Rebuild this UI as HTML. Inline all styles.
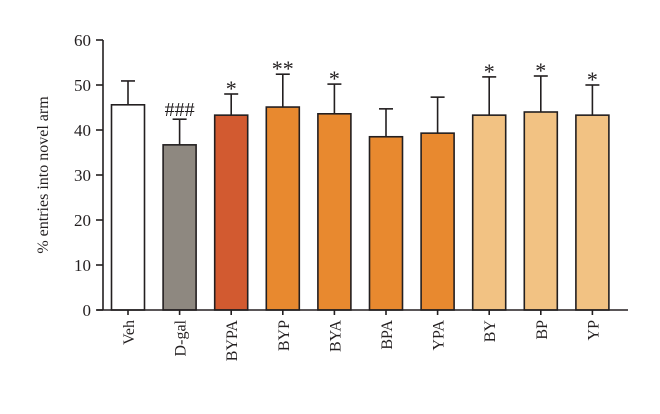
<!DOCTYPE html>
<html><head><meta charset="utf-8"><style>
body{margin:0;background:#fff}
svg text{font-family:"Liberation Serif",serif;fill:#231f20}
</style></head><body>
<svg id="chart" width="660" height="409" viewBox="0 0 660 409" xmlns="http://www.w3.org/2000/svg"></svg>
<script>
const categories=["Veh","D-gal","BYPA","BYP","BYA","BPA","YPA","BY","BP","YP"];
const means=[45.6,36.7,43.3,45.1,43.6,38.5,39.3,43.3,44.0,43.3];
const errors=[5.3,5.7,4.7,7.3,6.6,6.2,8.0,8.5,8.0,6.7];
const marks=["","###","*","**","*","","","*","*","*"];
const colors=["#ffffff","#8e8880","#d25a30","#e8892f","#e8892f","#e8892f","#e8892f","#f2c283","#f2c283","#f2c283"];
const yTicks=[0,10,20,30,40,50,60];
const svg=document.getElementById('chart');
const NS="http://www.w3.org/2000/svg";
const x0=103,y0=310,ppu=4.5,first=128,step=51.6,bw=33;
const y=v=>y0-v*ppu, xc=i=>first+i*step;
function add(tag,attrs,parent){const e=document.createElementNS(NS,tag);for(const k in attrs)e.setAttribute(k,attrs[k]);(parent||svg).appendChild(e);return e;}
const stroke="#231f20";
categories.forEach((c,i)=>{
  const g=add('g',{});
  
  
  const cx=xc(i),top=y(means[i]),et=y(means[i]+errors[i]);
  add('line',{x1:cx,x2:cx,y1:top,y2:et,stroke:stroke,'stroke-width':1.6},g);
  add('line',{x1:cx-7,x2:cx+7,y1:et,y2:et,stroke:stroke,'stroke-width':1.6},g);
  add('rect',{x:cx-bw/2,y:top,width:bw,height:y0-top,fill:colors[i],stroke:stroke,'stroke-width':1.6},g);
  if(marks[i]){const t=add('text',{x:cx,y:et-(marks[i][0]=='#'?3:-2),'text-anchor':'middle','font-size':marks[i][0]=='#'?20:22},g);t.textContent=marks[i];
    }
  add('line',{x1:cx,x2:cx,y1:y0,y2:y0+5,stroke:stroke,'stroke-width':1.6});
  const l=add('text',{transform:`translate(${cx+6},${y0+10}) rotate(-90)`,'text-anchor':'end','font-size':16});
  l.textContent=c;
  
  
});
const ax=add('g',{});


add('line',{x1:x0,x2:x0,y1:y(60),y2:y0,stroke:stroke,'stroke-width':1.6},ax);
add('line',{x1:x0-6,x2:628,y1:y0,y2:y0,stroke:stroke,'stroke-width':1.6});
yTicks.forEach(v=>{
  add('line',{x1:x0-7,x2:x0,y1:y(v),y2:y(v),stroke:stroke,'stroke-width':1.6},ax);
  const t=add('text',{x:x0-12,y:y(v)+6,'text-anchor':'end','font-size':17},ax);t.textContent=v;
});
const yt=add('text',{transform:`translate(48,${(y(60)+y0)/2}) rotate(-90)`,'text-anchor':'middle','font-size':16});
yt.textContent="% entries into novel arm";


</script>
</body></html>
